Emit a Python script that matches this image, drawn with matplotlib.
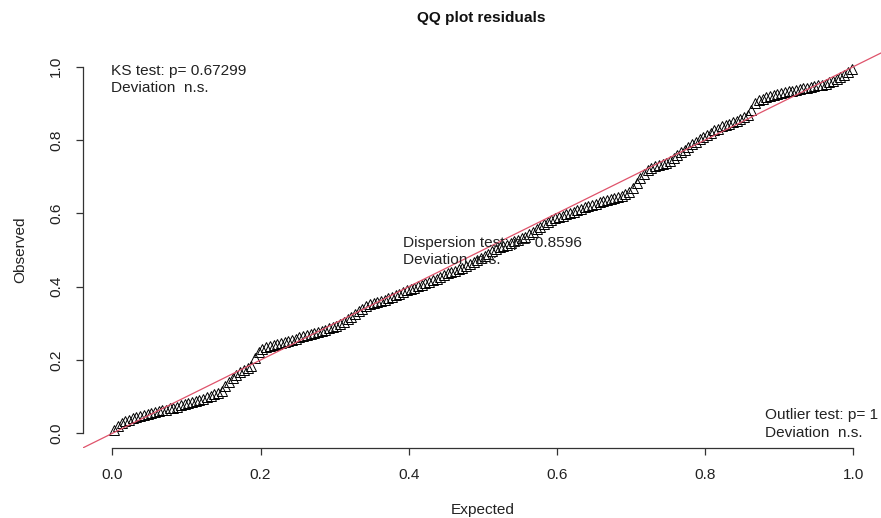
import matplotlib
matplotlib.use("Agg")
import matplotlib.pyplot as plt

# Expected uniform quantiles and the sorted scaled residuals
expected = [
    0.0025, 0.0075, 0.0125, 0.0175, 0.0225, 0.0275, 0.0325, 0.0375, 0.0425, 0.0475,
    0.0525, 0.0575, 0.0625, 0.0675, 0.0725, 0.0775, 0.0825, 0.0875, 0.0925, 0.0975,
    0.1025, 0.1075, 0.1125, 0.1175, 0.1225, 0.1275, 0.1325, 0.1375, 0.1425, 0.1475,
    0.1525, 0.1575, 0.1625, 0.1675, 0.1725, 0.1775, 0.1825, 0.1875, 0.1925, 0.1975,
    0.2025, 0.2075, 0.2125, 0.2175, 0.2225, 0.2275, 0.2325, 0.2375, 0.2425, 0.2475,
    0.2525, 0.2575, 0.2625, 0.2675, 0.2725, 0.2775, 0.2825, 0.2875, 0.2925, 0.2975,
    0.3025, 0.3075, 0.3125, 0.3175, 0.3225, 0.3275, 0.3325, 0.3375, 0.3425, 0.3475,
    0.3525, 0.3575, 0.3625, 0.3675, 0.3725, 0.3775, 0.3825, 0.3875, 0.3925, 0.3975,
    0.4025, 0.4075, 0.4125, 0.4175, 0.4225, 0.4275, 0.4325, 0.4375, 0.4425, 0.4475,
    0.4525, 0.4575, 0.4625, 0.4675, 0.4725, 0.4775, 0.4825, 0.4875, 0.4925, 0.4975,
    0.5025, 0.5075, 0.5125, 0.5175, 0.5225, 0.5275, 0.5325, 0.5375, 0.5425, 0.5475,
    0.5525, 0.5575, 0.5625, 0.5675, 0.5725, 0.5775, 0.5825, 0.5875, 0.5925, 0.5975,
    0.6025, 0.6075, 0.6125, 0.6175, 0.6225, 0.6275, 0.6325, 0.6375, 0.6425, 0.6475,
    0.6525, 0.6575, 0.6625, 0.6675, 0.6725, 0.6775, 0.6825, 0.6875, 0.6925, 0.6975,
    0.7025, 0.7075, 0.7125, 0.7175, 0.7225, 0.7275, 0.7325, 0.7375, 0.7425, 0.7475,
    0.7525, 0.7575, 0.7625, 0.7675, 0.7725, 0.7775, 0.7825, 0.7875, 0.7925, 0.7975,
    0.8025, 0.8075, 0.8125, 0.8175, 0.8225, 0.8275, 0.8325, 0.8375, 0.8425, 0.8475,
    0.8525, 0.8575, 0.8625, 0.8675, 0.8725, 0.8775, 0.8825, 0.8875, 0.8925, 0.8975,
    0.9025, 0.9075, 0.9125, 0.9175, 0.9225, 0.9275, 0.9325, 0.9375, 0.9425, 0.9475,
    0.9525, 0.9575, 0.9625, 0.9675, 0.9725, 0.9775, 0.9825, 0.9875, 0.9925, 0.9975,
]

observed = [
    0.010, 0.021, 0.028, 0.033, 0.037, 0.041, 0.044, 0.047, 0.050, 0.053,
    0.056, 0.058, 0.060, 0.063, 0.065, 0.068, 0.070, 0.073, 0.076, 0.079,
    0.082, 0.085, 0.088, 0.091, 0.095, 0.099, 0.103, 0.107, 0.111, 0.115,
    0.128, 0.140, 0.150, 0.160, 0.166, 0.172, 0.178, 0.183, 0.205, 0.222,
    0.231, 0.235, 0.238, 0.241, 0.244, 0.247, 0.249, 0.252, 0.255, 0.258,
    0.262, 0.266, 0.269, 0.271, 0.274, 0.277, 0.279, 0.281, 0.286, 0.290,
    0.294, 0.299, 0.305, 0.311, 0.318, 0.325, 0.333, 0.340, 0.346, 0.352,
    0.355, 0.359, 0.362, 0.365, 0.368, 0.372, 0.376, 0.380, 0.385, 0.390,
    0.393, 0.397, 0.401, 0.405, 0.409, 0.413, 0.417, 0.421, 0.426, 0.431,
    0.436, 0.439, 0.443, 0.447, 0.452, 0.457, 0.462, 0.467, 0.472, 0.477,
    0.484, 0.490, 0.497, 0.503, 0.507, 0.511, 0.515, 0.519, 0.524, 0.528,
    0.532, 0.536, 0.543, 0.550, 0.556, 0.563, 0.570, 0.577, 0.582, 0.586,
    0.589, 0.593, 0.597, 0.600, 0.604, 0.609, 0.613, 0.617, 0.620, 0.623,
    0.626, 0.630, 0.633, 0.636, 0.638, 0.641, 0.644, 0.648, 0.652, 0.657,
    0.668, 0.682, 0.696, 0.708, 0.718, 0.724, 0.728, 0.731, 0.734, 0.738,
    0.743, 0.750, 0.758, 0.766, 0.773, 0.780, 0.788, 0.795, 0.802, 0.809,
    0.814, 0.820, 0.826, 0.831, 0.837, 0.841, 0.845, 0.849, 0.853, 0.857,
    0.862, 0.867, 0.883, 0.902, 0.910, 0.913, 0.916, 0.919, 0.922, 0.925,
    0.927, 0.930, 0.933, 0.935, 0.937, 0.939, 0.941, 0.943, 0.945, 0.947,
    0.949, 0.951, 0.954, 0.957, 0.961, 0.966, 0.972, 0.978, 0.985, 0.995,
]

ticks = [0.0, 0.2, 0.4, 0.6, 0.8, 1.0]
tick_labels = ["0.0", "0.2", "0.4", "0.6", "0.8", "1.0"]

ks_lines = ["KS test: p= 0.67299", "Deviation  n.s."]
disp_lines = ["Dispersion test: p= 0.8596", "Deviation  n.s."]
out_lines = ["Outlier test: p= 1", "Deviation  n.s."]

plt.rcParams["font.family"] = ["Liberation Sans", "DejaVu Sans"]
fs = 11.1
ink = "#222222"

fig = plt.figure(figsize=(8.81, 5.18), dpi=100)
ax = fig.add_axes([82.7 / 881, 70 / 518, (883 - 82.7) / 881, (448 - 52) / 518])

ax.plot(expected, observed, linestyle="none", marker="^", markersize=7,
        markerfacecolor="none", markeredgecolor="black", markeredgewidth=0.7,
        clip_on=False, zorder=2)
ax.axline((0, 0), slope=1, color="#DF536B", linewidth=0.9, zorder=3)

ax.set_xlim(-0.04, 1.04)
ax.set_ylim(-0.04, 1.04)

for side in ("top", "right"):
    ax.spines[side].set_visible(False)
for side in ("left", "bottom"):
    ax.spines[side].set_bounds(0, 1)
    ax.spines[side].set_linewidth(0.9)
    ax.spines[side].set_color("#333333")

ax.set_xticks(ticks)
ax.set_xticklabels(tick_labels)
ax.set_yticks(ticks)
ax.set_yticklabels(tick_labels, rotation=90, va="center")
ax.tick_params(axis="both", direction="out", length=5.2, width=0.9,
               color="#333333", labelsize=fs, labelcolor=ink)
ax.tick_params(axis="x", pad=9)
ax.tick_params(axis="y", pad=9)

ax.set_xlabel("Expected", fontsize=fs, color=ink, labelpad=15)
ax.set_ylabel("Observed", fontsize=fs, color=ink, labelpad=16)
fig.text(0.5467, 1 - 18 / 518, "QQ plot residuals", ha="center", va="center",
         fontsize=fs, fontweight="bold", color="#111111")


def legend_block(x, ys, lines):
    for y, line in zip(ys, lines):
        ax.text(x, y, line, ha="left", va="center", fontsize=fs,
                color=ink, zorder=4)


legend_block(-0.0015, [0.989, 0.943], ks_lines)
legend_block(0.392, [0.519, 0.473], disp_lines)
legend_block(0.881, [0.050, 0.001], out_lines)

fig.savefig("out.png", dpi=100)
